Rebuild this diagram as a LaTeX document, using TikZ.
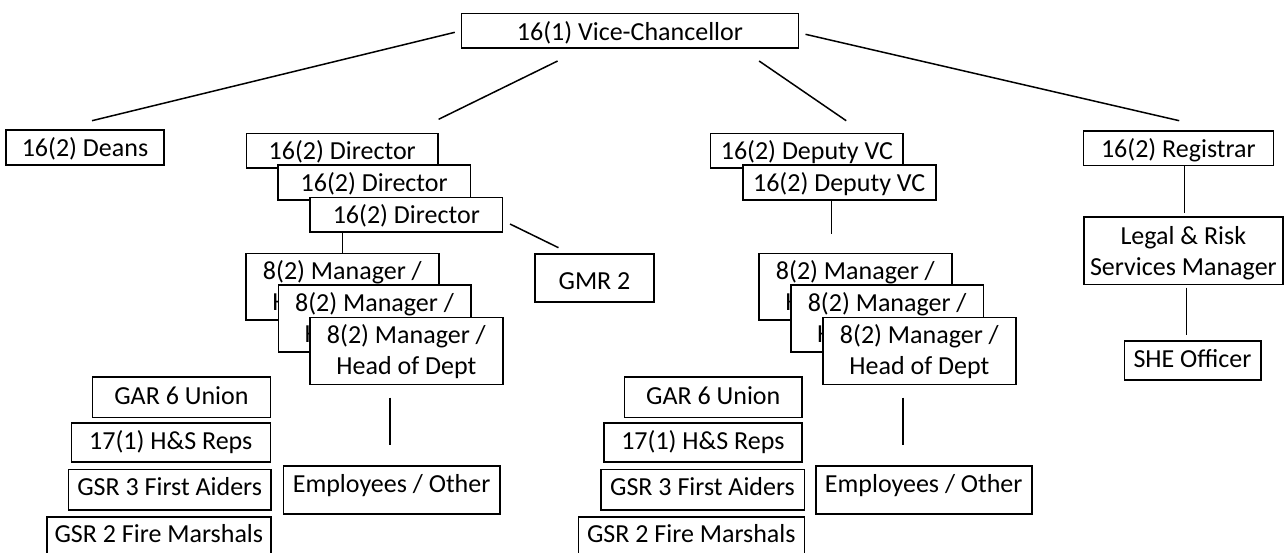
\documentclass[tikz,border=0pt]{standalone}
\usepackage{fontspec}
\setmainfont{Carlito}
% two centred lines, baseline of the box = baseline of the first line
\newcommand\twoline[2]{\vtop{\baselineskip=31pt\halign{\hfil##\hfil\cr#1\cr#2\cr}}}
% \orgbox{name}{x1}{y1}{x2}{y2}{baseline offset below centre}{text}
\newcommand\orgbox[7]{%
  \node[orgbox, minimum width={#4-#2}, minimum height={#5-#3}] (#1)
    at ({(#2+#4)/2},{(#3+#5)/2}) {\raisebox{-#6pt}[0pt][0pt]{#7}};}
\tikzset{
  orgbox/.style={draw=black, fill=white, line width=1.6pt, inner sep=0pt,
    text=black, font=\fontsize{26}{31}\selectfont},
  conn/.style={draw=black, line width=1.5pt}
}
\begin{document}
\begin{tikzpicture}[x=1pt, y=-1pt]
\useasboundingbox (0,0) rectangle (1284,552);

% top level
\orgbox{vc}{461.4}{13.3}{798.5}{48}{10}{16(1) Vice-Chancellor}

% second level
\orgbox{deans}{5.8}{130}{164.2}{165}{9.2}{16(2) Deans}
\orgbox{dirA}{246.3}{133.3}{438.2}{167.7}{9.4}{16(2) Director}
\orgbox{dirB}{277.8}{165}{470.6}{200}{9.3}{16(2) Director}
\orgbox{dirC}{310.1}{197.3}{502.5}{231.7}{9.1}{16(2) Director}
\orgbox{dvcA}{710.6}{133.3}{903.2}{167.7}{9.4}{16(2) Deputy VC}
\orgbox{dvcB}{742.7}{165}{935.7}{200}{9.3}{16(2) Deputy VC}
\orgbox{reg}{1083.3}{131}{1273.3}{165.3}{9.1}{16(2) Registrar}

% third level
\orgbox{gmr}{534.8}{254}{654.2}{301.7}{12}{GMR 2}
\orgbox{mgrLA}{246}{253.3}{438.7}{320}{-7.2}{\twoline{8(2) Manager /}{Head of Dept}}
\orgbox{mgrLB}{278.3}{285}{470.7}{351.7}{-7}{\twoline{8(2) Manager /}{Head of Dept}}
\orgbox{mgrLC}{310}{317.3}{502.7}{384.5}{-7}{\twoline{8(2) Manager /}{Head of Dept}}
\orgbox{mgrRA}{759}{253.3}{951.7}{320}{-7.2}{\twoline{8(2) Manager /}{Head of Dept}}
\orgbox{mgrRB}{791}{285}{983.3}{351.7}{-7}{\twoline{8(2) Manager /}{Head of Dept}}
\orgbox{mgrRC}{822.7}{317.3}{1016}{384.5}{-7}{\twoline{8(2) Manager /}{Head of Dept}}
\orgbox{legal}{1084}{216.7}{1282.7}{284.3}{-6.5}{\twoline{Legal \& Risk}{Services Manager}}
\orgbox{she}{1124.3}{340.7}{1260.7}{380}{6.9}{SHE Officer}

% safety roles, left branch
\orgbox{garL}{92.5}{376.7}{270.3}{417.3}{7}{GAR 6 Union}
\orgbox{hsL}{71.3}{422.7}{270.3}{462}{6.9}{17(1) H\&S Reps}
\orgbox{faL}{68.3}{469.3}{271}{510}{5.8}{GSR 3 First Aiders}
\orgbox{fmL}{46.7}{516.7}{271}{557.4}{5.2}{GSR 2 Fire Marshals}
\orgbox{empL}{283.3}{465.7}{500}{514}{2.8}{Employees / Other}

% safety roles, right branch
\orgbox{garR}{624.6}{376.7}{801.9}{417.3}{7}{GAR 6 Union}
\orgbox{hsR}{603.9}{422.7}{801.9}{462}{6.9}{17(1) H\&S Reps}
\orgbox{faR}{600.7}{469.3}{804.3}{510}{5.8}{GSR 3 First Aiders}
\orgbox{fmR}{578.3}{516.7}{804.3}{557.4}{5.2}{GSR 2 Fire Marshals}
\orgbox{empR}{815.7}{465.7}{1031.8}{514}{2.8}{Employees / Other}

% connector end points (lines stop short of the boxes)
\coordinate (c1a) at (454.8,32.3);  \coordinate (c1b) at (92,120.7);
\coordinate (c2a) at (557.6,61);    \coordinate (c2b) at (438.6,119.3);
\coordinate (c3a) at (759.1,61);    \coordinate (c3b) at (846.2,120.7);
\coordinate (c4a) at (805.5,34.3);  \coordinate (c4b) at (1179.2,120.7);
\coordinate (c5a) at (510,224);     \coordinate (c5b) at (558.5,247.7);
\coordinate (c6a) at (342.6,231.7); \coordinate (c6b) at (342.6,253.3);
\coordinate (c7a) at (831.4,200);   \coordinate (c7b) at (831.4,234.3);
\coordinate (c8a) at (1184.3,165.3);\coordinate (c8b) at (1184.3,213.3);
\coordinate (c9a) at (1186.3,287.7);\coordinate (c9b) at (1186.3,335);
\coordinate (c10a) at (390.1,397.7);\coordinate (c10b) at (390.1,445);
\coordinate (c11a) at (903,397.7);  \coordinate (c11b) at (903,445);

\draw[conn] (c1a) -- (c1b);
\draw[conn] (c2a) -- (c2b);
\draw[conn] (c3a) -- (c3b);
\draw[conn] (c4a) -- (c4b);
\draw[conn] (c5a) -- (c5b);
\draw[conn] (c6a) -- (c6b);
\draw[conn] (c7a) -- (c7b);
\draw[conn] (c8a) -- (c8b);
\draw[conn] (c9a) -- (c9b);
\draw[conn] (c10a) -- (c10b);
\draw[conn] (c11a) -- (c11b);
\end{tikzpicture}
\end{document}
